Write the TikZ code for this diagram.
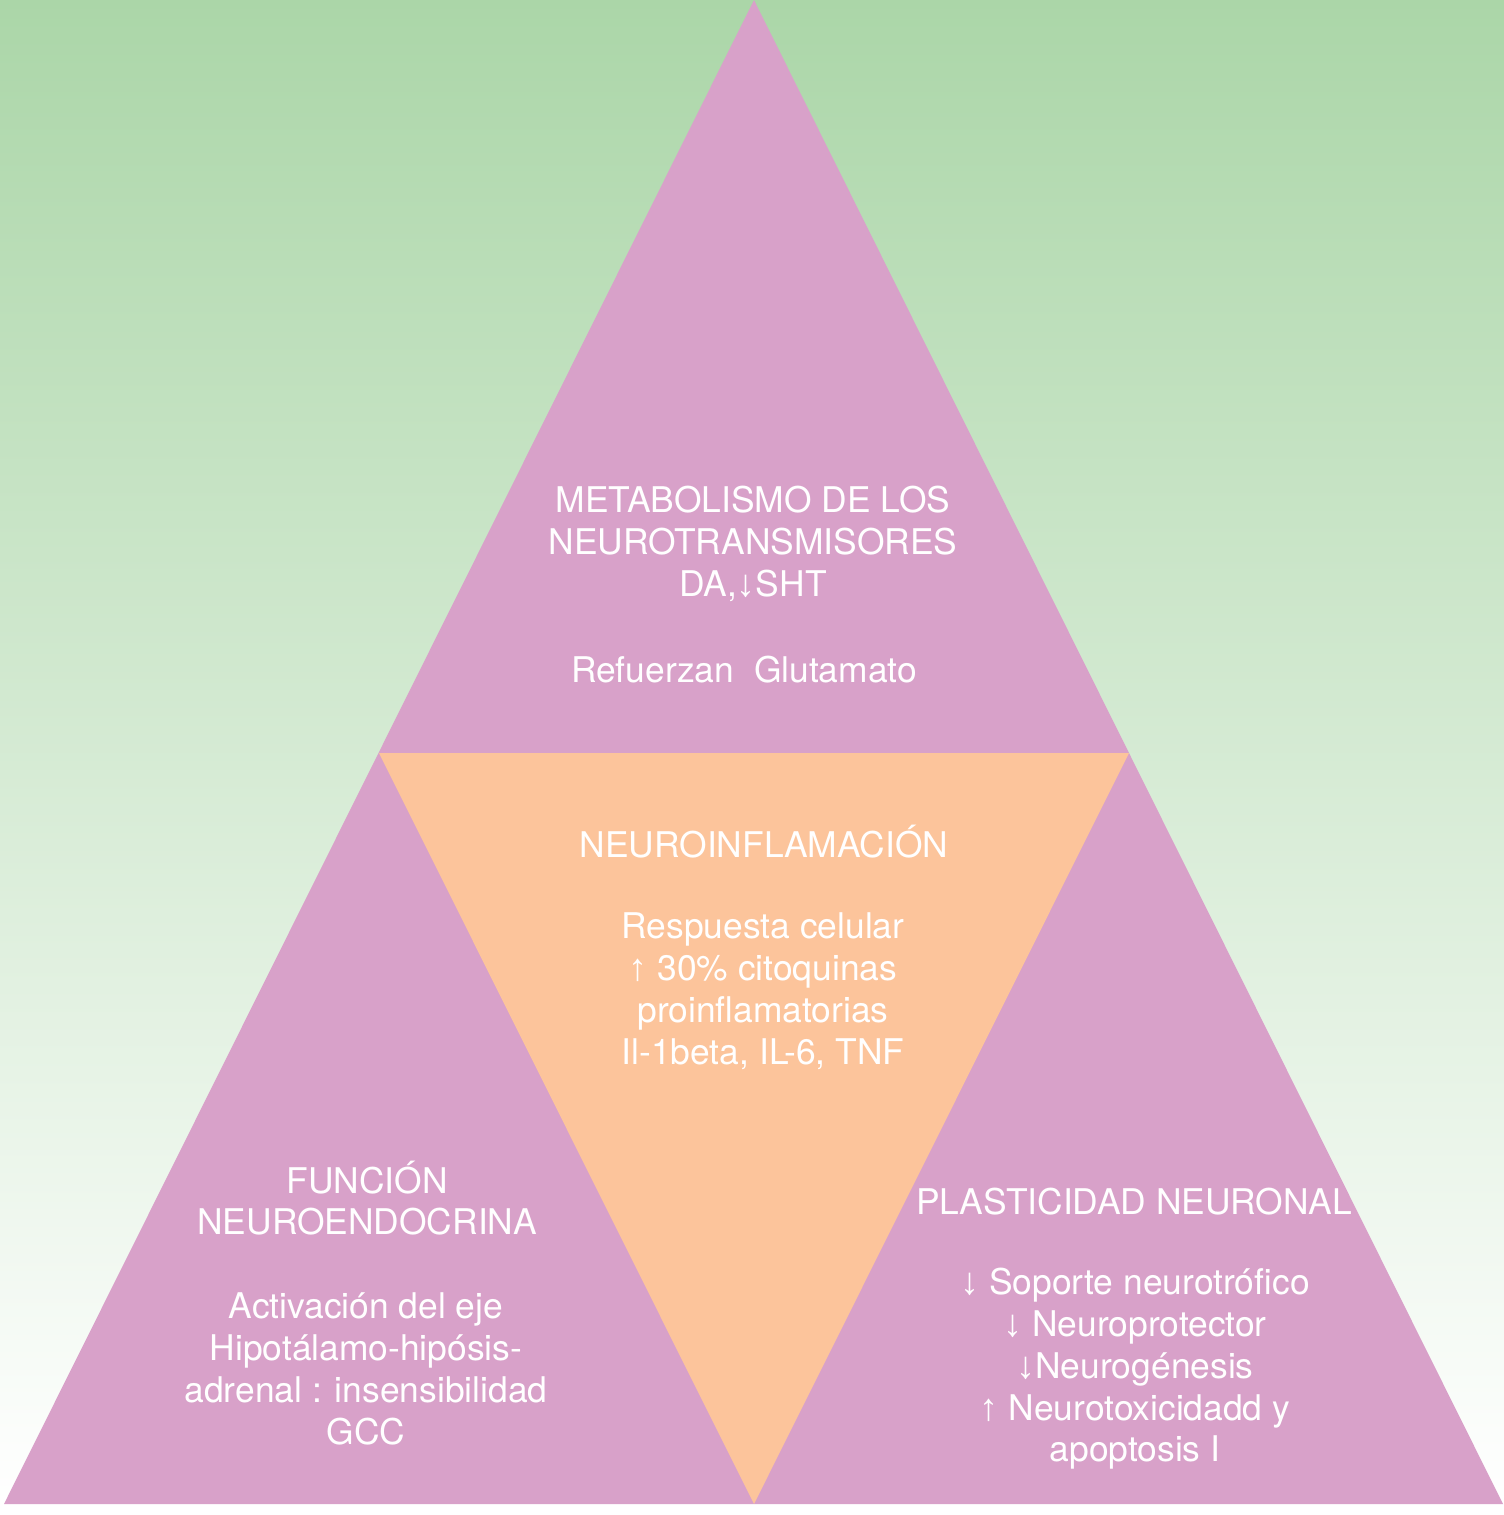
\documentclass[tikz,border=0pt]{standalone}
\usepackage{fontspec}
\setmainfont{TeX Gyre Heros}
\newfontfamily\arrowfont{Liberation Sans}
\newcommand{\dn}{{\arrowfont\fontsize{19}{20}\selectfont ↓}}
\newcommand{\up}{{\arrowfont\fontsize{19}{20}\selectfont ↑}}
\definecolor{bggreen}{RGB}{171,214,168}
\definecolor{pyrpink}{RGB}{216,161,201}
\definecolor{pyrorange}{RGB}{252,196,155}
\tikzset{
  lbl/.style={text=white, align=center, inner sep=0pt,
    font=\fontsize{17.7}{20.9}\selectfont},
}
\begin{document}
\begin{tikzpicture}[x=0.5pt,y=-0.5pt]
\useasboundingbox (0,0) rectangle (1504,1515);
\fill[white] (0,0) rectangle (1504,1515);
\shade[top color=bggreen, bottom color=white] (0,0) rectangle (1504,1504);
% outer pyramid
\coordinate (apex) at (754,0);
\coordinate (bl) at (4,1504);
\coordinate (br) at (1503,1504);
\coordinate (ml) at (379,753);
\coordinate (mr) at (1129,753);
\coordinate (bm) at (754,1504);
\fill[pyrpink] (apex) -- (br) -- (bl) -- cycle;
\fill[pyrorange] (ml) -- (mr) -- (bm) -- cycle;
% texts
\node[lbl] (toptitle) at (753,544) {METABOLISMO DE LOS\\NEUROTRANSMISORES\\DA,\dn SHT};
\node[lbl] (topbody) at (744,670) {Refuerzan\ \ Glutamato};
\node[lbl] (midtitle) at (764,842) {NEUROINFLAMACIÓN};
\node[lbl] (midbody) at (763,991) {Respuesta celular\\\up\ 30\% citoquinas\\proinflamatorias\\Il-1beta, IL-6, TNF};
\node[lbl] (lefttitle) at (367,1198) {FUNCIÓN\\NEUROENDOCRINA};
\node[lbl] (leftbody) at (366,1369) {Activación del eje\\Hipotálamo-hipósis-\\adrenal : insensibilidad\\GCC};
\node[lbl] (righttitle) at (1134,1202) {PLASTICIDAD NEURONAL};
\node[lbl] (rightbody) at (1135,1369) {\dn\ Soporte neurotrófico\\\dn\ Neuroprotector\\\dn Neurogénesis\\\up\ Neurotoxicidadd y\\apoptosis I};
\end{tikzpicture}
\end{document}
